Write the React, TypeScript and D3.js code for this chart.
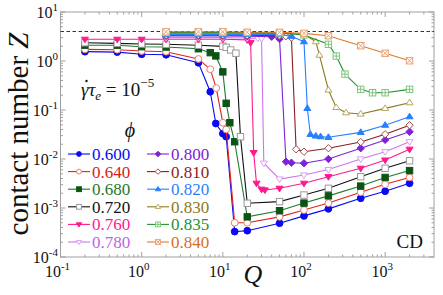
import React from "react";
import * as d3 from "d3";

// phi values, legend order
const phiLabels = ["0.600", "0.640", "0.680", "0.720", "0.760", "0.780", "0.800", "0.810", "0.820", "0.830", "0.835", "0.840"];

// Q and Z for each packing fraction
const q600 = [0.2, 0.5, 1, 2, 5, 7, 8.2, 10, 11, 14, 20, 50, 100, 200, 500, 1000, 2000];
const z600 = [1.55, 1.52, 1.37, 1.34, 0.92, 0.236, 0.053, 0.033, 0.0285, 3.3e-4, 3.44e-4, 4.9e-4, 6.9e-4, 9.6e-4, 1.58e-3, 2.2e-3, 3.2e-3];

const q640 = [0.2, 0.5, 1, 2, 5, 7, 8.3, 10, 11, 14, 20, 50, 100, 200, 500, 1000, 2000];
const z640 = [1.73, 1.7, 1.6, 1.55, 1.1, 0.68, 0.28, 0.055, 0.04, 5e-4, 5e-4, 6.6e-4, 9.1e-4, 1.26e-3, 2.1e-3, 3.05e-3, 4.2e-3];

const q680 = [0.2, 0.5, 1, 2, 5, 7, 8.2, 10, 11, 12.2, 14, 20, 50, 100, 200, 500, 1000, 2000];
const z680 = [2.1, 2.1, 1.96, 1.93, 1.78, 1.48, 1.27, 0.6, 0.137, 0.055, 0.0225, 6.6e-4, 8.8e-4, 1.26e-3, 1.77e-3, 2.8e-3, 4.2e-3, 5.8e-3];

const q720 = [0.2, 0.5, 1, 2, 5, 10, 11, 12.5, 14.5, 16.5, 20, 50, 100, 200, 500, 1000, 2000];
const z720 = [2.36, 2.29, 2.22, 2.19, 2.09, 1.99, 1.9, 1.68, 1.44, 0.0285, 1.25e-3, 1.35e-3, 1.84e-3, 2.52e-3, 4.35e-3, 6.46e-3, 9.2e-3];

const q760 = [0.2, 0.5, 1, 2, 5, 10, 20, 22, 24, 26, 30, 33, 50, 100, 200, 500, 1000, 2000];
const z760 = [2.77, 2.77, 2.77, 2.77, 2.77, 2.77, 2.7, 2.36, 0.0135, 3.19e-3, 2.41e-3, 2.33e-3, 2.52e-3, 3.19e-3, 4.35e-3, 6.46e-3, 9.5e-3, 0.0158];

const q780 = [2, 5, 10, 20, 27, 30, 32, 50, 100, 200, 500, 1000, 2000];
const z780 = [3.0, 3.0, 3.0, 2.95, 2.9, 2.85, 8.2e-3, 3.9e-3, 4.7e-3, 6.1e-3, 0.01, 0.0141, 0.0225];

const q800 = [2, 5, 10, 20, 40, 50, 60, 70, 100, 200, 500, 1000, 2000];
const z800 = [3.25, 3.25, 3.25, 3.2, 3.13, 2.81, 8.8e-3, 8.4e-3, 8.2e-3, 0.01, 0.0166, 0.0245, 0.036];

const q810 = [2, 5, 10, 20, 50, 60, 70, 80, 100, 200, 500, 1000, 2000];
const z810 = [3.4, 3.4, 3.4, 3.35, 3.3, 3.2, 3.0, 0.0158, 0.0141, 0.0166, 0.0222, 0.032, 0.049];

const q820 = [2, 5, 10, 20, 50, 70, 100, 110, 120, 140, 160, 200, 500, 1000, 2000];
const z820 = [3.5, 3.5, 3.5, 3.5, 3.45, 3.2, 2.48, 0.108, 0.0319, 0.0295, 0.0286, 0.0277, 0.035, 0.049, 0.073];

const q830 = [2, 5, 10, 20, 50, 100, 140, 155, 200, 250, 330, 500, 1000, 2000];
const z830 = [3.7, 3.7, 3.7, 3.7, 3.65, 3.55, 2.48, 1.32, 0.256, 0.113, 0.088, 0.083, 0.108, 0.141];

const q835 = [2, 5, 10, 20, 50, 100, 200, 250, 320, 500, 700, 1000, 2000];
const z835 = [3.8, 3.8, 3.8, 3.8, 3.75, 3.4, 2.19, 1.26, 0.54, 0.264, 0.225, 0.225, 0.264];

const q840 = [2, 5, 10, 20, 50, 100, 200, 500, 1000, 2000];
const z840 = [3.95, 3.95, 3.95, 3.85, 3.85, 3.67, 3.28, 2.05, 1.44, 1.01];

const isostatic = 4;

const qs = [q600, q640, q680, q720, q760, q780, q800, q810, q820, q830, q835, q840];
const zs = [z600, z640, z680, z720, z760, z780, z800, z810, z820, z830, z835, z840];

// styles kept apart from data
const styles = [
  { line: "#0a0af0", text: "#0a0af0", shape: "circle", stroke: "#0a0af0", fill: "#0a0af0" },
  { line: "#e0231a", text: "#d8201a", shape: "circle", stroke: "#ef7b72", fill: "white" },
  { line: "#1d7a2c", text: "#1d7a2c", shape: "square", stroke: "#0b5416", fill: "#0b5416" },
  { line: "#111", text: "#111", shape: "square", stroke: "#9a9a9a", fill: "white" },
  { line: "#ff1a8c", text: "#ff1a8c", shape: "triDown", stroke: "#ff1a8c", fill: "#ff1a8c" },
  { line: "#cc77ee", text: "#c062e6", shape: "triDown", stroke: "#d9a0f0", fill: "white" },
  { line: "#7e22d8", text: "#7e22d8", shape: "diamond", stroke: "#7e22d8", fill: "#7e22d8" },
  { line: "#8e1d1d", text: "#8e1d1d", shape: "diamond", stroke: "#a64a4a", fill: "white" },
  { line: "#2a7fff", text: "#2a7fff", shape: "triUp", stroke: "#2a7fff", fill: "#2a7fff" },
  { line: "#8c7a22", text: "#8c7a22", shape: "triUp", stroke: "#b7a860", fill: "white" },
  { line: "#23922f", text: "#23922f", shape: "squarePlus", stroke: "#7cc87c", fill: "white" },
  { line: "#e07a28", text: "#d96f1e", shape: "squareX", stroke: "#eea070", fill: "white" },
];

const W = 443;
const H = 295;
const serif = "'Liberation Serif', 'Times New Roman', serif";

const x = d3.scaleLog().domain([0.1, 4000]).range([60.5, 434]);
const y = d3.scaleLog().domain([1e-4, 10]).range([257, 12]);

function Marker({ shape, cx, cy, s, stroke, fill }) {
  const sw = 1;
  if (shape === "circle") return <circle cx={cx} cy={cy} r={s} fill={fill} stroke={stroke} strokeWidth={sw} />;
  if (shape === "square" || shape === "squarePlus" || shape === "squareX") {
    return (
      <g stroke={stroke} strokeWidth={sw}>
        <rect x={cx - s} y={cy - s} width={2 * s} height={2 * s} fill={fill} />
        {shape === "squarePlus" && <path d={`M${cx - s},${cy}H${cx + s}M${cx},${cy - s}V${cy + s}`} fill="none" />}
        {shape === "squareX" && <path d={`M${cx - s},${cy - s}L${cx + s},${cy + s}M${cx + s},${cy - s}L${cx - s},${cy + s}`} fill="none" />}
      </g>
    );
  }
  if (shape === "triDown") {
    const h = s * 1.1;
    return <path d={`M${cx - h},${cy - h * 0.6}L${cx + h},${cy - h * 0.6}L${cx},${cy + h}Z`} fill={fill} stroke={stroke} strokeWidth={sw} />;
  }
  if (shape === "triUp") {
    const h = s * 1.1;
    return <path d={`M${cx - h},${cy + h * 0.6}L${cx + h},${cy + h * 0.6}L${cx},${cy - h}Z`} fill={fill} stroke={stroke} strokeWidth={sw} />;
  }
  const h = s * 1.15;
  return <path d={`M${cx},${cy - h}L${cx + h},${cy}L${cx},${cy + h}L${cx - h},${cy}Z`} fill={fill} stroke={stroke} strokeWidth={sw} />;
}

function TenPow({ x0, y0, exp, anchor }) {
  return (
    <text x={x0} y={y0} fontFamily={serif} fontSize={16} textAnchor={anchor} fill="#111">
      10<tspan dy={-7} fontSize={11}>{exp}</tspan>
    </text>
  );
}

export default function App() {
  const line = d3.line<number[]>().x((d) => x(d[0])).y((d) => y(d[1]));
  const [x0, x1] = x.range();
  const [y0, y1] = y.range();

  const xMajor = [-1, 0, 1, 2, 3];
  const yMajor = [-4, -3, -2, -1, 0, 1];
  const xMinor: number[] = [];
  for (let e = -1; e <= 3; e++) for (let k = 2; k <= 9; k++) if (k * 10 ** e < 4000) xMinor.push(k * 10 ** e);
  const yMinor: number[] = [];
  for (let e = -4; e <= 0; e++) for (let k = 2; k <= 9; k++) yMinor.push(k * 10 ** e);

  return (
    <svg width={W} height={H} style={{ position: "absolute", left: 0, top: 0, background: "white" }}>
      <rect x={0} y={0} width={W} height={H} fill="white" />
      {/* frame and ticks */}
      <g stroke="#a0a0a0" strokeWidth={1} fill="none">
        <rect x={x0} y={y1} width={x1 - x0} height={y0 - y1} />
        {xMajor.map((e) => (
          <path key={"xm" + e} d={`M${x(10 ** e)},${y0}v-5M${x(10 ** e)},${y1}v5`} />
        ))}
        {xMinor.map((v) => (
          <path key={"xn" + v} d={`M${x(v)},${y0}v-2.5M${x(v)},${y1}v2.5`} />
        ))}
        {yMajor.map((e) => (
          <path key={"ym" + e} d={`M${x0},${y(10 ** e)}h5M${x1},${y(10 ** e)}h-5`} />
        ))}
        {yMinor.map((v) => (
          <path key={"yn" + v} d={`M${x0},${y(v)}h2.5M${x1},${y(v)}h-2.5`} />
        ))}
      </g>
      {xMajor.map((e) => (
        <TenPow key={"xl" + e} x0={x(10 ** e) - 3} y0={277} exp={String(e)} anchor="middle" />
      ))}
      {yMajor.map((e) => (
        <TenPow key={"yl" + e} x0={58} y0={y(10 ** e) + 6} exp={String(e)} anchor="end" />
      ))}

      {/* isostatic line */}
      <line x1={x0} x2={x1} y1={y(isostatic)} y2={y(isostatic)} stroke="#333" strokeWidth={1} strokeDasharray="3.5,2.5" />

      {/* series */}
      {qs.map((q, i) => {
        const pts = q.map((v, j) => [v, zs[i][j]]);
        const st = styles[i];
        return (
          <g key={"s" + i}>
            <path d={line(pts) || ""} fill="none" stroke={st.line} strokeWidth={1.1} />
            {pts.map((p, j) => (
              <Marker key={j} shape={st.shape} cx={x(p[0])} cy={y(p[1])} s={st.shape === "circle" ? 3.4 : 3.2} stroke={st.stroke} fill={st.fill} />
            ))}
          </g>
        );
      })}

      {/* legend */}
      <text x={130} y={137} fontFamily={serif} fontSize={20} fontStyle="italic" textAnchor="middle" fill="#111">ϕ</text>
      {phiLabels.map((lab, i) => {
        const col = i < 6 ? 0 : 1;
        const row = i % 6;
        const ly = 154 + 17.6 * row;
        const lx = col === 0 ? 68 : 147;
        const st = styles[i];
        return (
          <g key={"lg" + i}>
            <line x1={lx} x2={lx + 22} y1={ly} y2={ly} stroke={st.line} strokeWidth={1.1} />
            <Marker shape={st.shape} cx={lx + 11} cy={ly} s={2.4} stroke={st.stroke} fill={st.fill} />
            <text x={lx + 24} y={ly + 6} fontFamily={serif} fontSize={17} fill={st.text}>{lab}</text>
          </g>
        );
      })}

      {/* shear-rate annotation */}
      <text x={81} y={96} fontFamily={serif} fontSize={19} fill="#111">
        <tspan fontStyle="italic">γτ</tspan>
        <tspan fontStyle="italic" fontSize={13} dy={4}>e</tspan>
        <tspan dy={-4}> = 10</tspan>
        <tspan fontSize={13} dy={-9}>−5</tspan>
      </text>
      <circle cx={86.5} cy={81} r={1.2} fill="#111" />

      <text x={423} y={248} fontFamily={serif} fontSize={19} textAnchor="end" fill="#111">CD</text>

      {/* axis titles */}
      <text x={253} y={283} fontFamily={serif} fontSize={26} fontStyle="italic" textAnchor="middle" fill="#111">Q</text>
      <text transform="translate(28,134) rotate(-90)" fontFamily={serif} fontSize={29} textAnchor="middle" fill="#111">
        contact number <tspan fontStyle="italic">Z</tspan>
      </text>
    </svg>
  );
}
